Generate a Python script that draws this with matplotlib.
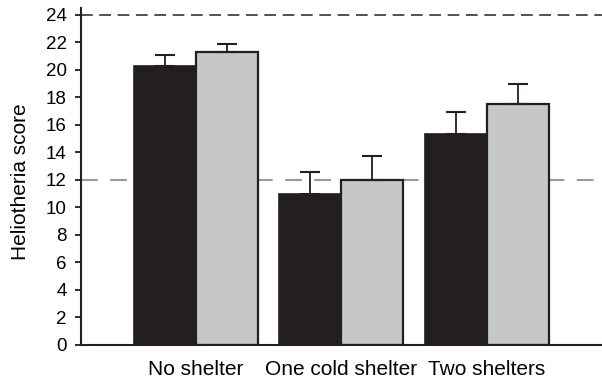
import numpy as np
import matplotlib.pyplot as plt

plt.rcParams['font.family'] = ['Liberation Sans', 'DejaVu Sans']

groups = ['No shelter', 'One cold shelter', 'Two shelters']
dark_vals = [20.25, 10.95, 15.3]
dark_err = [0.82, 1.6, 1.6]
light_vals = [21.3, 12.0, 17.5]
light_err = [0.57, 1.75, 1.45]

x = np.arange(len(groups))
w = 0.426

fig = plt.figure(figsize=(6.02, 3.81), dpi=100)
ax = fig.add_axes([0.134, 0.0958, 0.866, 0.883])

ax.axhline(24, color='#333333', lw=1.2, ls=(0, (7, 4)), zorder=1)
ax.axhline(12, color='#999999', lw=1.5, ls=(0, (8, 6)), zorder=1)

err_kw = dict(ecolor='#231f20', elinewidth=1.3, capsize=7, capthick=1.5)
ax.bar(x - w / 2, dark_vals, w, color='#231f20', edgecolor='#231f20', lw=1.2,
       yerr=[np.zeros(3), dark_err], error_kw=err_kw, zorder=2)
ax.bar(x + w / 2, light_vals, w, color='#c6c7c8', edgecolor='#231f20', lw=1.6,
       yerr=[np.zeros(3), light_err], error_kw=err_kw, zorder=2)

ax.set_xlim(-0.792, 2.79)
ax.set_ylim(0, 24.5)
ax.set_yticks(range(0, 25, 2))
ax.set_xticks(x)
ax.set_xticklabels(groups, fontsize=15)
ax.tick_params(axis='x', length=0, pad=11)
ax.tick_params(axis='y', labelsize=13.5, length=4, width=1.3, pad=6, color='#231f20')
ax.set_ylabel('Heliotheria score', fontsize=15)
ax.yaxis.set_label_coords(-0.097, 0.483)

for s in ['top', 'right']:
    ax.spines[s].set_visible(False)
for s in ['left', 'bottom']:
    ax.spines[s].set_linewidth(1.5)
    ax.spines[s].set_color('#231f20')

fig.savefig('out.png', dpi=100)
